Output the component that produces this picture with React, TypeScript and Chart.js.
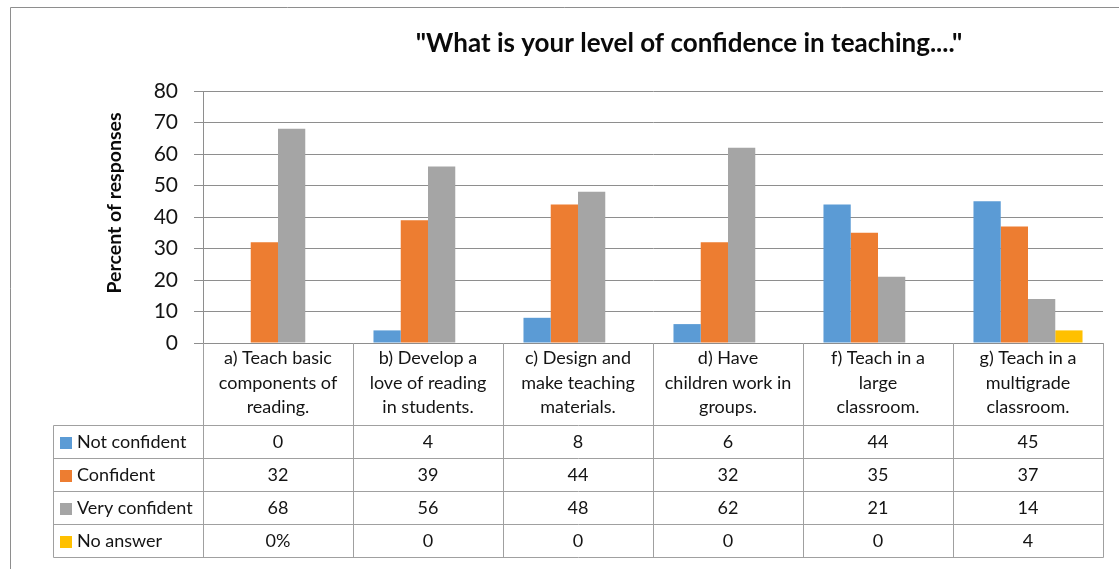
import React, { useEffect, useRef } from "react";
import { Chart, registerables } from "chart.js";

Chart.register(...registerables);

const chartTitle = '"What is your level of confidence in teaching...."';
const yAxisTitle = "Percent of responses";

const categories: string[][] = [
  ["a) Teach basic", "components of", "reading."],
  ["b) Develop a", "love of reading", "in students."],
  ["c) Design and", "make teaching", "materials."],
  ["d) Have", "children work in", "groups."],
  ["f) Teach in a", "large", "classroom."],
  ["g) Teach in a", "multigrade", "classroom."],
];

const seriesNames = ["Not confident", "Confident", "Very confident", "No answer"];
const notConfident = [0, 4, 8, 6, 44, 45];
const confident = [32, 39, 44, 32, 35, 37];
const veryConfident = [68, 56, 48, 62, 21, 14];
const noAnswer = [0, 0, 0, 0, 0, 4];
const noAnswerTableText = ["0%", "0", "0", "0", "0", "4"];

const yTicks = [0, 10, 20, 30, 40, 50, 60, 70, 80];

const COLORS = ["#5B9BD5", "#ED7D31", "#A5A5A5", "#FFC000"];
const FONT = "Lato, 'Open Sans', sans-serif";
const TEXT = "#141414";
const LINE = "#8e8e8e";

export default function App() {
  const ref = useRef<HTMLCanvasElement | null>(null);

  useEffect(() => {
    if (!ref.current) return;
    const seriesData = [notConfident, confident, veryConfident, noAnswer];
    const tableRows: string[][] = [
      notConfident.map(String),
      confident.map(String),
      veryConfident.map(String),
      noAnswerTableText,
    ];

    const HEADER_H = 82;
    const TABLE_LEFT = 53;

    const decorPlugin = {
      id: "decor",
      afterDraw(chart: any) {
        const ctx = chart.ctx as CanvasRenderingContext2D;
        const area = chart.chartArea;
        const xs = chart.scales.x;
        const n = categories.length;
        const colW = (xs.right - xs.left) / n;
        const top = area.bottom;
        const headerBottom = top + HEADER_H;
        const bottom = xs.bottom;
        const rowH = (bottom - headerBottom) / tableRows.length;
        const al = (v: number) => Math.round(v) + 0.5;

        ctx.save();
        // outer frame
        ctx.strokeStyle = LINE;
        ctx.lineWidth = 1;
        ctx.beginPath();
        ctx.moveTo(al(10), chart.height);
        ctx.lineTo(al(10), al(7));
        ctx.lineTo(chart.width, al(7));
        ctx.stroke();

        // table grid
        ctx.strokeStyle = "#a0a0a0";
        ctx.beginPath();
        for (let i = 0; i <= n; i++) {
          const x = al(xs.left + i * colW);
          ctx.moveTo(x, top);
          ctx.lineTo(x, al(bottom));
        }
        ctx.moveTo(al(TABLE_LEFT), al(headerBottom));
        ctx.lineTo(al(TABLE_LEFT), al(bottom));
        for (let r = 0; r <= tableRows.length; r++) {
          const y = al(headerBottom + r * rowH);
          ctx.moveTo(al(TABLE_LEFT), y);
          ctx.lineTo(al(xs.right), y);
        }
        ctx.stroke();

        // table text
        ctx.font = `18px ${FONT}`;
        ctx.fillStyle = TEXT;
        ctx.textBaseline = "middle";
        for (let r = 0; r < tableRows.length; r++) {
          const cy = headerBottom + r * rowH + rowH / 2 + 1;
          ctx.fillStyle = COLORS[r];
          ctx.fillRect(TABLE_LEFT + 7, Math.round(cy - 6), 12, 12);
          ctx.fillStyle = TEXT;
          ctx.textAlign = "left";
          ctx.fillText(seriesNames[r], TABLE_LEFT + 24, cy);
          ctx.textAlign = "center";
          for (let c = 0; c < n; c++) {
            ctx.fillText(tableRows[r][c], xs.left + c * colW + colW / 2, cy);
          }
        }

        // chart title
        ctx.font = `bold 26px ${FONT}`;
        ctx.fillStyle = "#0a0a0a";
        ctx.textAlign = "center";
        ctx.textBaseline = "middle";
        ctx.fillText(chartTitle, 689, 44);

        // y-axis title
        ctx.translate(115, 203);
        ctx.rotate(-Math.PI / 2);
        ctx.font = `bold 19.5px ${FONT}`;
        ctx.fillText(yAxisTitle, 0, 0);
        ctx.restore();
      },
    };

    const chart = new Chart(ref.current, {
      type: "bar",
      data: {
        labels: categories,
        datasets: seriesNames.map((name, i) => ({
          label: name,
          data: seriesData[i],
          backgroundColor: COLORS[i],
          borderWidth: 0,
          categoryPercentage: 0.727,
          barPercentage: 1,
        })),
      },
      options: {
        animation: false,
        responsive: false,
        devicePixelRatio: 1,
        layout: { padding: { top: 91, right: 16, bottom: 12, left: 0 } },
        plugins: {
          legend: { display: false },
          title: { display: false },
          tooltip: { enabled: false },
        },
        scales: {
          x: {
            grid: { display: false, drawTicks: false },
            border: { display: true, color: LINE, width: 1 },
            ticks: {
              autoSkip: false,
              maxRotation: 0,
              minRotation: 0,
              padding: 3,
              color: TEXT,
              font: { family: FONT, size: 18, lineHeight: 1.36 },
            },
            afterFit: (scale: any) => {
              scale.height = 214;
            },
          },
          y: {
            min: 0,
            max: 80,
            afterBuildTicks: (scale: any) => {
              scale.ticks = yTicks.map((v) => ({ value: v }));
            },
            grid: { color: LINE, tickLength: 9, lineWidth: 1 },
            border: { display: true, color: LINE, width: 1 },
            ticks: {
              padding: 16,
              color: TEXT,
              font: { family: FONT, size: 21 },
            },
            afterFit: (scale: any) => {
              scale.width = 203;
            },
          },
        },
      },
      plugins: [decorPlugin],
    });
    return () => chart.destroy();
  }, []);

  return (
    <div style={{ position: "fixed", left: 0, top: 0, width: 1119, height: 569, background: "#fff" }}>
      <canvas ref={ref} width={1119} height={569} style={{ display: "block" }} />
    </div>
  );
}
